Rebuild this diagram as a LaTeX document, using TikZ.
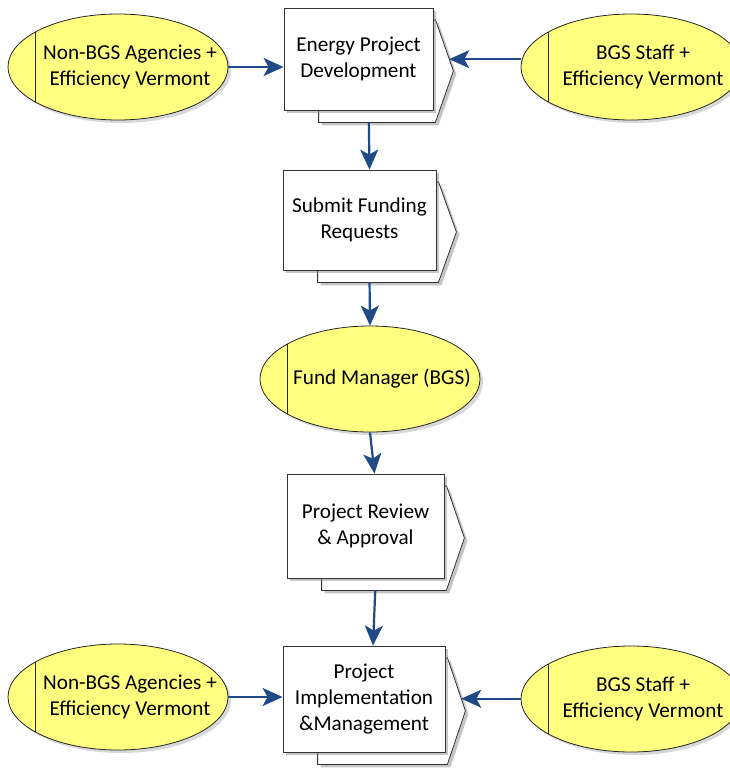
\documentclass[tikz,border=0pt]{standalone}
\usepackage{fontspec}
\setmainfont{Carlito}
\usepackage{tikz}
\usetikzlibrary{arrows.meta,calc,shadows,shapes.geometric,backgrounds}
\definecolor{flowblue}{HTML}{1F4A85}
\definecolor{ovalyellow}{HTML}{FFFF80}

% second sheet with the pointed right side, behind a step box
% #1 = step box, #2 = prefix for the in/out coordinates
\newcommand{\backsheet}[2]{%
  \draw[sheet] ($(#1.north east)+(2,12)$) -- ($(#1.east)+(20,12)$) coordinate[pos=0.77] (#2in)
    -- ($(#1.south east)+(2,12)$) -- ($(#1.south west)+(35,12)$) coordinate[pos=0.57] (#2out)
    -- ($(#1.south west)+(35,0)$) -- cycle;}
% text of an oval, pushed right of the bar (no width, so the oval keeps its size)
\newcommand{\ovaltext}[1]{\makebox[0pt]{\begin{tabular}{@{\hspace{24pt}}c@{}}#1\end{tabular}}}

\begin{document}
\begin{tikzpicture}[x=1pt, y=-1pt, >={Stealth[length=20pt,width=18pt,inset=5pt]},
    every node/.style={font=\fontsize{21.2}{26}\selectfont},
    stepbox/.style={draw=black!80, line width=0.8pt, fill=white, align=center, inner sep=0pt,
      drop shadow={shadow xshift=3pt, shadow yshift=-3pt, fill=black!45}},
    sheet/.style={draw=black!80, line width=0.8pt, fill=white,
      drop shadow={shadow xshift=3pt, shadow yshift=-3pt, fill=black!45}},
    oval/.style={ellipse, draw=black!85, line width=0.8pt, fill=ovalyellow, inner sep=0pt,
      minimum width=220pt, minimum height=106pt,
      drop shadow={shadow xshift=3pt, shadow yshift=-3pt, fill=black!30},
      path picture={\draw[black!85, line width=0.8pt]
        ([xshift=27pt]path picture bounding box.north west) -- ([xshift=27pt]path picture bounding box.south west);}},
    flow/.style={->, draw=flowblue, line width=2.2pt}]

  \useasboundingbox (0,0) rectangle (730,768);

  % process steps
  \node[stepbox, minimum width=149pt, minimum height=102pt] (dev) at (358.5,59) {Energy Project\\Development};
  \node[stepbox, minimum width=153pt, minimum height=100pt] (req) at (359.5,220) {Submit Funding\\Requests};
  \node[stepbox, minimum width=157pt, minimum height=104pt] (rev) at (365.5,526) {Project Review\\\& Approval};
  \node[stepbox, minimum width=162pt, minimum height=106pt] (impl) at (364,699) {Project\\Implementation\\\&Management};

  \begin{pgfonlayer}{background}
    \backsheet{dev}{dev}
    \backsheet{req}{req}
    \backsheet{rev}{rev}
    \backsheet{impl}{impl}
  \end{pgfonlayer}

  % who takes part
  \node[oval] (agency1) at (118,67) {\ovaltext{Non-BGS Agencies +\\Efficiency Vermont}};
  \node[oval] (staff1) at (631,67) {\ovaltext{BGS Staff +\\Efficiency Vermont}};
  \node[oval] (fund) at (370,379) {\ovaltext{Fund Manager (BGS)}};
  \node[oval] (agency2) at (118,697) {\ovaltext{Non-BGS Agencies +\\Efficiency Vermont}};
  \node[oval] (staff2) at (631,699) {\ovaltext{BGS Staff +\\Efficiency Vermont}};

  % flow
  \draw[flow] (agency1.east) -- (agency1.east -| dev.west);
  \draw[flow] (devin -| staff1.west) -- (devin);
  \draw[flow] (devout) -- ([xshift=10pt]req.north);
  \draw[flow] (reqout) -- (fund.north);
  \draw[flow] (fund.south) -- ([xshift=9pt]rev.north);
  \draw[flow] (revout) -- ([xshift=9pt]impl.north);
  \draw[flow] (agency2.east) -- (agency2.east -| impl.west);
  \draw[flow] (implin -| staff2.west) -- (implin);

\end{tikzpicture}
\end{document}
